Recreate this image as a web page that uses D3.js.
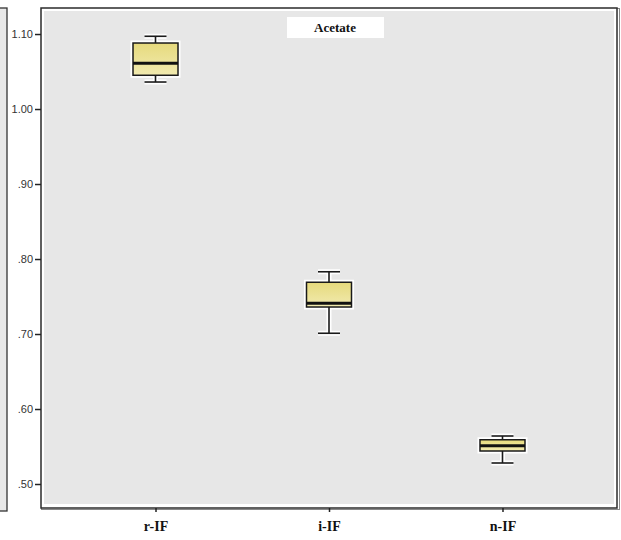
<!DOCTYPE html>
<html><head><meta charset="utf-8">
<script src="https://cdn.jsdelivr.net/npm/d3@7"></script>
<style>html,body{margin:0;padding:0;background:#fff;}svg{display:block;}</style>
</head><body>
<svg id="chart" width="621" height="540"></svg>
<script>
const categories = ["r-IF", "i-IF", "n-IF"];
const whiskerHigh = [1.097, 0.783, 0.564];
const q3 = [1.088, 0.769, 0.559];
const median = [1.061, 0.741, 0.551];
const q1 = [1.045, 0.736, 0.544];
const whiskerLow = [1.036, 0.701, 0.528];
const yTicks = [0.5, 0.6, 0.7, 0.8, 0.9, 1.0, 1.1];
const title = "Acetate";

const svg = d3.select("#chart");
const L = 41, R = 617, T = 8, B = 508;

const y = d3.scaleLinear().domain([0.468, 1.1347]).range([B, T]);
const x = d3.scalePoint().domain(categories).range([L, R]).padding(0.66);

// neighbouring panel at far left
svg.append("rect").attr("x", -10).attr("y", 8).attr("width", 17).attr("height", 503)
  .attr("fill", "#e8e8e8").attr("stroke", "#333").attr("stroke-width", 1.3);

// main frame
svg.append("rect").attr("x", L + 0.5).attr("y", T + 0.5).attr("width", R - L + 2).attr("height", B - T + 1)
  .attr("fill", "none").attr("stroke", "#888").attr("stroke-width", 1);
svg.append("rect").attr("x", L).attr("y", T).attr("width", R - L).attr("height", B - T)
  .attr("fill", "#fff").attr("stroke", "#2b2b2b").attr("stroke-width", 1.5);
svg.append("rect").attr("x", L + 3).attr("y", T + 3).attr("width", R - L - 6).attr("height", B - T - 7)
  .attr("fill", "#e7e7e7");

// y axis
const yAxis = d3.axisLeft(y).tickValues(yTicks).tickSize(6).tickPadding(2)
  .tickFormat(d => d3.format(".2f")(d).replace(/^0/, ""));
const gy = svg.append("g").attr("transform", `translate(${L},0)`).call(yAxis);
gy.select(".domain").remove();
gy.selectAll(".tick line").attr("stroke", "#222").attr("stroke-width", 1.5);
gy.selectAll(".tick text").attr("fill", "#333").attr("font-family", "Liberation Sans, Arial, sans-serif").attr("font-size", 11);

// x axis
const xAxis = d3.axisBottom(x).tickSize(4).tickPadding(6);
const gx = svg.append("g").attr("transform", `translate(0,${B})`).call(xAxis);
gx.select(".domain").remove();
gx.selectAll(".tick line").attr("stroke", "#222").attr("stroke-width", 1.5);
gx.selectAll(".tick text").attr("fill", "#111").attr("font-family", "Liberation Serif, Times New Roman, serif")
  .attr("font-weight", "bold").attr("font-size", 14).attr("dy", "0.9em");

// gradient for boxes
const defs = svg.append("defs");
const grad = defs.append("linearGradient").attr("id", "boxg").attr("x1", 0).attr("x2", 0).attr("y1", 0).attr("y2", 1);
grad.append("stop").attr("offset", "0%").attr("stop-color", "#e6da7c");
grad.append("stop").attr("offset", "100%").attr("stop-color", "#f1eab0");

const bw = 45, cw = 22;
const data = categories.map((c, i) => ({c, hi: whiskerHigh[i], q3: q3[i], med: median[i], q1: q1[i], lo: whiskerLow[i]}));
const g = svg.append("g").selectAll("g").data(data).join("g");

function drawParts(sel, stroke, sw, halo) {
  sel.append("line").attr("x1", d => x(d.c)).attr("x2", d => x(d.c)).attr("y1", d => y(d.hi)).attr("y2", d => y(d.q3))
    .attr("stroke", stroke).attr("stroke-width", sw);
  sel.append("line").attr("x1", d => x(d.c)).attr("x2", d => x(d.c)).attr("y1", d => y(d.q1)).attr("y2", d => y(d.lo))
    .attr("stroke", stroke).attr("stroke-width", sw);
  sel.append("line").attr("x1", d => x(d.c) - cw / 2).attr("x2", d => x(d.c) + cw / 2).attr("y1", d => y(d.hi)).attr("y2", d => y(d.hi))
    .attr("stroke", stroke).attr("stroke-width", sw);
  sel.append("line").attr("x1", d => x(d.c) - cw / 2).attr("x2", d => x(d.c) + cw / 2).attr("y1", d => y(d.lo)).attr("y2", d => y(d.lo))
    .attr("stroke", stroke).attr("stroke-width", sw);
  sel.append("rect").attr("x", d => x(d.c) - bw / 2).attr("width", bw)
    .attr("y", d => y(d.q3)).attr("height", d => y(d.q1) - y(d.q3))
    .attr("fill", halo ? "#fff" : "url(#boxg)").attr("stroke", stroke).attr("stroke-width", halo ? 5 : 1.5);
}
drawParts(g, "#fff", 5, true);
drawParts(g, "#1a1a1a", 1.6, false);
g.append("line").attr("x1", d => x(d.c) - bw / 2).attr("x2", d => x(d.c) + bw / 2)
  .attr("y1", d => y(d.med)).attr("y2", d => y(d.med)).attr("stroke", "#111").attr("stroke-width", 3);

// title box
const tx = (L + R) / 2 + 6;
svg.append("rect").attr("x", tx - 48).attr("y", 17).attr("width", 97).attr("height", 21).attr("fill", "#fff");
svg.append("text").attr("x", tx).attr("y", 32).attr("text-anchor", "middle")
  .attr("font-family", "Liberation Serif, Times New Roman, serif").attr("font-weight", "bold").attr("font-size", 13)
  .attr("fill", "#111").text(title);
</script>
</body></html>
